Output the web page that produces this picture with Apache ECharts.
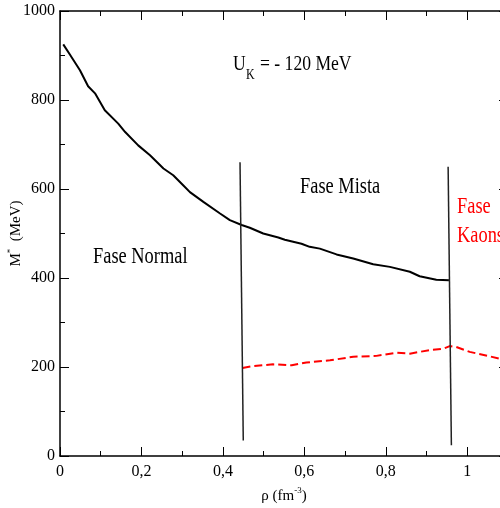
<!DOCTYPE html>
<html>
<head>
<meta charset="utf-8">
<script src="https://cdn.jsdelivr.net/npm/echarts@6/dist/echarts.min.js"></script>
<style>html,body{margin:0;padding:0;background:#fff}#c{width:500px;height:508px}</style>
</head>
<body>
<div id="c"></div>
<script>
// Nucleon effective mass (black solid)
var blackX = [0.008,0.025,0.049,0.069,0.086,0.11,0.143,0.16,0.192,0.221,0.254,0.278,0.303,0.319,0.352,0.393,0.417,0.446,0.466,0.499,0.536,0.552,0.593,0.613,0.638,0.679,0.72,0.769,0.81,0.859,0.883,0.924,0.955];
var blackY = [925,901,867,831,815,777,747,728,698,676,646,631,608,593,571,545,530,519,513,500,491,486,477,470,466,453,444,431,425,414,404,396,395];
// Kaon effective mass (red dashed)
var redX = [0.448,0.474,0.523,0.569,0.605,0.663,0.72,0.777,0.826,0.859,0.908,0.941,0.957,0.973,1.006,1.055,1.1];
var redY = [198,202,206,204,210,215,223,225,232,230,238,241,247,245,234,224,214];
// Phase boundary lines
var boundary1X = [0.442,0.45];
var boundary1Y = [660,35];
var boundary2X = [0.953,0.961];
var boundary2Y = [650,24];
// Tick labels
var xTickValues = [0,0.2,0.4,0.6,0.8,1.0];
var xTickLabels = ['0','0,2','0,4','0,6','0,8','1'];
var yTickValues = [0,200,400,600,800,1000];
var yTickLabels = ['0','200','400','600','800','1000'];

function pairs(xs, ys){ return xs.map(function(x,i){ return [x, ys[i]]; }); }
function lookup(vals, labels){
  return function(v){
    for (var i=0;i<vals.length;i++){ if (Math.abs(vals[i]-v) < 1e-6) return labels[i]; }
    return '';
  };
}

var FONT = '"Liberation Serif", "DejaVu Serif", serif';
var chart = echarts.init(document.getElementById('c'));
function axisCommon(){
  return {
    axisLine: {show: true, onZero: false, lineStyle: {color: '#000', width: 1.5}},
    axisTick: {show: true, inside: true, length: 9, lineStyle: {color: '#000', width: 1}},
    minorTick: {show: true, splitNumber: 2, length: 5, lineStyle: {color: '#000', width: 1}},
    splitLine: {show: false}
  };
}
function label(txt, x, y, size, color){
  return {type: 'text', x: x, y: y, scaleX: 0.8, style: {text: txt, font: size + 'px ' + FONT, fill: color || '#000', textAlign: 'left', textVerticalAlign: 'top'}};
}
chart.setOption({
  animation: false,
  backgroundColor: '#fff',
  grid: {left: 60, right: -8, top: 11, bottom: 52, containLabel: false, outerBoundsMode: 'none'},
  xAxis: [
    Object.assign(axisCommon(), {
      type: 'value', min: 0, max: 1.1, interval: 0.2, position: 'bottom',
      name: '{a|ρ (fm}{s|-3}{a|)}', nameLocation: 'middle', nameGap: 30,
      nameTextStyle: {rich: {a: {fontFamily: FONT, fontSize: 15, color: '#000', lineHeight: 18, verticalAlign: 'bottom'}, s: {fontFamily: FONT, fontSize: 9, color: '#000', verticalAlign: 'top', lineHeight: 18}}},
      axisLabel: {show: true, formatter: lookup(xTickValues, xTickLabels), fontFamily: FONT, fontSize: 16, color: '#000', margin: 8}
    }),
    Object.assign(axisCommon(), {
      type: 'value', min: 0, max: 1.1, interval: 0.2, position: 'top',
      axisLabel: {show: false}
    })
  ],
  yAxis: [
    Object.assign(axisCommon(), {
      type: 'value', min: 0, max: 1000, interval: 200, position: 'left',
      name: '{a|M}{s|*}{a|  (MeV)}', nameLocation: 'middle', nameGap: 36, nameRotate: 90, nameMoveOverlap: false,
      nameTextStyle: {rich: {a: {fontFamily: FONT, fontSize: 15, color: '#000', lineHeight: 18, verticalAlign: 'bottom'}, s: {fontFamily: FONT, fontSize: 9, color: '#000', verticalAlign: 'top', lineHeight: 18}}},
      axisLabel: {show: true, formatter: lookup(yTickValues, yTickLabels), fontFamily: FONT, fontSize: 16, color: '#000', margin: 5}
    }),
    Object.assign(axisCommon(), {
      type: 'value', min: 0, max: 1000, interval: 200, position: 'right',
      axisLabel: {show: false}
    })
  ],
  series: [
    {type: 'line', data: pairs(blackX, blackY), showSymbol: false, lineStyle: {color: '#000', width: 2}, clip: true},
    {type: 'line', data: pairs(redX, redY), showSymbol: false, lineStyle: {color: '#ff0000', width: 2, type: [8,4]}, clip: true},
    {type: 'line', data: pairs(boundary1X, boundary1Y), showSymbol: false, lineStyle: {color: '#222', width: 1.5}},
    {type: 'line', data: pairs(boundary2X, boundary2Y), showSymbol: false, lineStyle: {color: '#222', width: 1.5}}
  ],
  graphic: [
    label('U', 233, 53, 22),
    label('K', 246, 68, 15),
    label('= - 120 MeV', 260, 53, 22),
    label('Fase Mista', 300, 175, 23),
    label('Fase Normal', 93, 245, 23),
    label('Fase', 457, 195, 23, '#ff0000'),
    label('Kaons', 457, 224, 23, '#ff0000')
  ]
});
</script>
</body>
</html>
